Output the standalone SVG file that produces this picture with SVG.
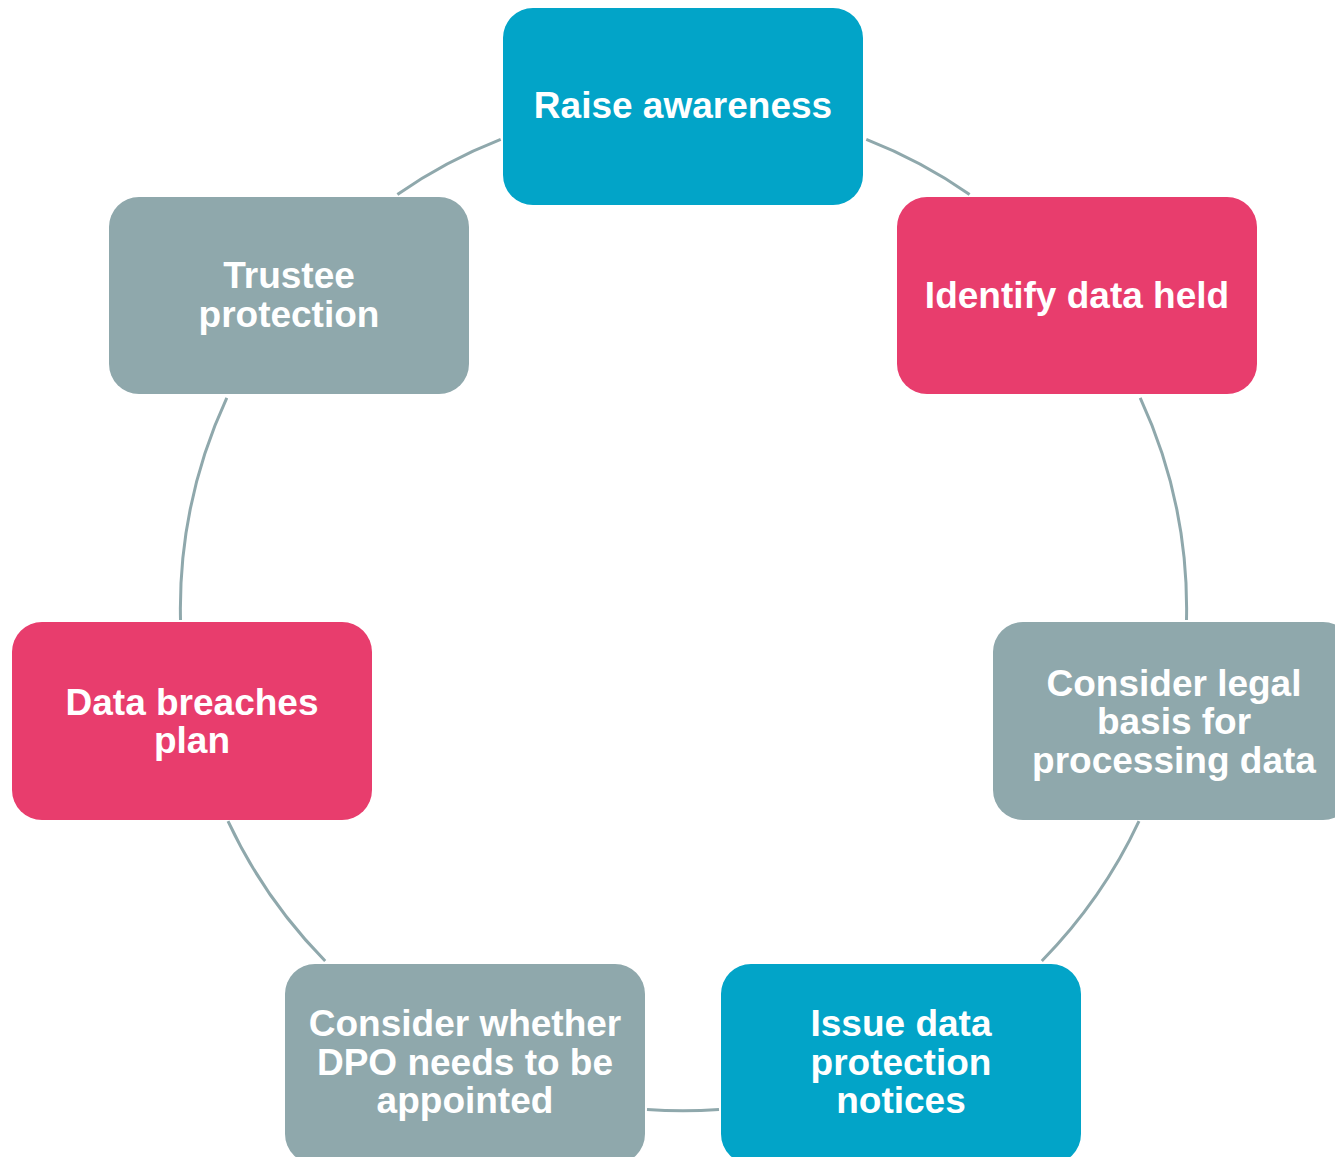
<svg xmlns="http://www.w3.org/2000/svg" width="1335" height="1157" viewBox="0 0 1335 1157">
<style>
.box{stroke:none}
.teal{fill:#02A4C8}
.pink{fill:#E83D6D}
.gray{fill:#8FA8AC}
.lbl{font-family:"Liberation Sans",Arial,sans-serif;font-weight:bold;font-size:37px;fill:#FFFFFF;text-anchor:middle}
.conn{fill:none;stroke:#8FA8AC;stroke-width:3}
</style>
<rect width="1335" height="1157" fill="#FFFFFF"/>
<g id="connectors">
<path class="conn" d="M866.3,139.4 A503,503 0 0 1 969.6,194.4"/>
<path class="conn" d="M1140.2,397.9 A503,503 0 0 1 1186.5,620"/>
<path class="conn" d="M1139,821.2 A503,503 0 0 1 1041.8,961"/>
<path class="conn" d="M719,1109.5 A503,503 0 0 1 647,1109.5"/>
<path class="conn" d="M325.2,961 A503,503 0 0 1 228,821.2"/>
<path class="conn" d="M180.5,620 A503,503 0 0 1 226.8,397.9"/>
<path class="conn" d="M397.4,194.4 A503,503 0 0 1 500.7,139.4"/>
</g>
<g id="node-raise-awareness">
<rect class="box teal" x="503" y="8" width="360" height="197" rx="30"/>
<text class="lbl" x="683" y="118">Raise awareness</text>
</g>
<g id="node-identify-data-held">
<rect class="box pink" x="897" y="197" width="360" height="197" rx="30"/>
<text class="lbl" x="1077" y="308">Identify data held</text>
</g>
<g id="node-legal-basis">
<rect class="box gray" x="993" y="622" width="360" height="198" rx="30"/>
<text class="lbl" x="1174" y="695.5">Consider legal</text>
<text class="lbl" x="1174" y="734">basis for</text>
<text class="lbl" x="1174" y="772.5">processing data</text>
</g>
<g id="node-issue-notices">
<rect class="box teal" x="721" y="964" width="360" height="200" rx="30"/>
<text class="lbl" x="901" y="1036">Issue data</text>
<text class="lbl" x="901" y="1074.5">protection</text>
<text class="lbl" x="901" y="1113">notices</text>
</g>
<g id="node-dpo">
<rect class="box gray" x="285" y="964" width="360" height="200" rx="30"/>
<text class="lbl" x="465" y="1036">Consider whether</text>
<text class="lbl" x="465" y="1074.5">DPO needs to be</text>
<text class="lbl" x="465" y="1113">appointed</text>
</g>
<g id="node-data-breaches">
<rect class="box pink" x="12" y="622" width="360" height="198" rx="30"/>
<text class="lbl" x="192" y="714.5">Data breaches</text>
<text class="lbl" x="192" y="753">plan</text>
</g>
<g id="node-trustee-protection">
<rect class="box gray" x="109" y="197" width="360" height="197" rx="30"/>
<text class="lbl" x="289" y="288">Trustee</text>
<text class="lbl" x="289" y="326.5">protection</text>
</g>
</svg>
